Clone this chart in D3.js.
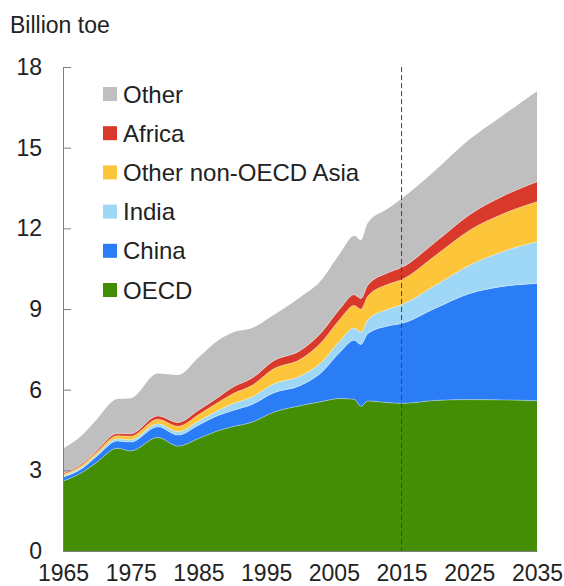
<!DOCTYPE html>
<html>
<head>
<meta charset="utf-8">
<script src="https://cdn.jsdelivr.net/npm/d3@7"></script>
<style>
  html, body { margin: 0; padding: 0; background: #fff; }
  svg text { font-family: "Liberation Sans", Arial, sans-serif; fill: #222; }
</style>
</head>
<body>
<svg id="chart" width="564" height="586"></svg>
<script>
// ---- data (billion toe) ----
const years  = [1965, 1968, 1970, 1973, 1975, 1979, 1982, 1985, 1988, 1990, 1993, 1996, 2000, 2003, 2006, 2008, 2009, 2010, 2013, 2015, 2020, 2025, 2030, 2035];
const oecd   = [2.60, 2.95, 3.30, 3.82, 3.72, 4.22, 3.90, 4.18, 4.48, 4.62, 4.80, 5.15, 5.40, 5.55, 5.67, 5.64, 5.38, 5.58, 5.52, 5.49, 5.60, 5.63, 5.62, 5.59];
const china  = [0.14, 0.15, 0.22, 0.27, 0.33, 0.40, 0.41, 0.50, 0.57, 0.60, 0.66, 0.72, 0.75, 1.05, 1.75, 2.20, 2.30, 2.50, 2.85, 2.97, 3.43, 3.94, 4.22, 4.36];
const india  = [0.05, 0.06, 0.07, 0.08, 0.09, 0.11, 0.13, 0.15, 0.19, 0.25, 0.28, 0.33, 0.35, 0.38, 0.42, 0.45, 0.46, 0.52, 0.62, 0.70, 0.85, 1.05, 1.30, 1.55];
const otherAsia = [0.06, 0.07, 0.09, 0.12, 0.13, 0.17, 0.20, 0.24, 0.30, 0.37, 0.43, 0.56, 0.62, 0.74, 0.81, 0.84, 0.85, 0.87, 0.93, 0.93, 1.11, 1.30, 1.40, 1.49];
const africa = [0.04, 0.05, 0.06, 0.08, 0.09, 0.12, 0.14, 0.16, 0.19, 0.24, 0.27, 0.30, 0.33, 0.36, 0.39, 0.40, 0.40, 0.41, 0.43, 0.45, 0.50, 0.58, 0.66, 0.74];
const other  = [0.91, 1.07, 1.16, 1.28, 1.32, 1.58, 1.77, 1.97, 2.12, 2.04, 1.86, 1.70, 1.98, 1.95, 2.06, 2.19, 2.17, 2.32, 2.39, 2.56, 2.67, 2.80, 3.01, 3.37];

const seriesNames = ["OECD", "China", "India", "Other non-OECD Asia", "Africa", "Other"];
const seriesData  = [oecd, china, india, otherAsia, africa, other];
const colors      = ["#448e06", "#2b7df5", "#9fd8f6", "#fdc53a", "#d8392a", "#bfbfbf"];
const legendOrder = ["Other", "Africa", "Other non-OECD Asia", "India", "China", "OECD"];
const yTicks = [0, 3, 6, 9, 12, 15, 18];
const xTicks = [1965, 1975, 1985, 1995, 2005, 2015, 2025, 2035];
const forecastStart = 2015;
const yTitle = "Billion toe";

// ---- layout ----
const svg = d3.select("#chart");
const plotL = 63, plotR = 537, plotT = 67, plotB = 551;

const x = d3.scaleLinear().domain([1965, 2035]).range([plotL, plotR]);
const y = d3.scaleLinear().domain([0, 18]).range([plotB, plotT]);

const table = years.map((yr, i) => {
  const row = { year: yr };
  seriesNames.forEach((n, k) => row[n] = seriesData[k][i]);
  return row;
});

const stack = d3.stack().keys(seriesNames);
const layers = stack(table);

const area = d3.area()
  .curve(d3.curveMonotoneX)
  .x(d => x(d.data.year))
  .y0(d => y(d[0]))
  .y1(d => y(d[1]));

const topLine = d3.line()
  .curve(d3.curveMonotoneX)
  .x(d => x(d.data.year))
  .y(d => y(d[1]));

svg.append("g").selectAll("path")
  .data(layers)
  .join("path")
  .attr("d", area)
  .attr("fill", (d, i) => colors[i]);

svg.append("g").selectAll("path")
  .data(layers.slice(0, 5))
  .join("path")
  .attr("d", topLine)
  .attr("fill", "none")
  .attr("stroke", "rgba(255,255,255,0.35)")
  .attr("stroke-width", 1);

// forecast divider
svg.append("line")
  .attr("x1", x(forecastStart)).attr("x2", x(forecastStart))
  .attr("y1", y(18)).attr("y2", y(0))
  .attr("stroke", "#444").attr("stroke-width", 1)
  .attr("stroke-dasharray", "5,3");

// y axis
const yAxis = d3.axisLeft(y)
  .tickValues(yTicks)
  .tickSizeInner(-8)
  .tickSizeOuter(0)
  .tickPadding(21)
  .tickFormat(d3.format("d"));

const gy = svg.append("g")
  .attr("transform", `translate(${plotL},0)`)
  .call(yAxis);
gy.select(".domain").attr("stroke", "#808080");
gy.selectAll(".tick line").attr("stroke", "#808080");
gy.selectAll(".tick text")
  .style("font-size", "23px")
  .attr("fill", "#222")
  .attr("font-family", "Liberation Sans, Arial, sans-serif");

// x axis
const xAxis = d3.axisBottom(x)
  .tickValues(xTicks)
  .tickSize(0)
  .tickPadding(14)
  .tickFormat(d3.format("d"));

const gx = svg.append("g")
  .attr("transform", `translate(0,${plotB})`)
  .call(xAxis);
gx.select(".domain").attr("stroke", "#808080");
gx.selectAll(".tick text")
  .style("font-size", "23px")
  .attr("fill", "#222")
  .attr("font-family", "Liberation Sans, Arial, sans-serif");

// y title
svg.append("text")
  .attr("x", 10).attr("y", 33)
  .style("font-size", "23px")
  .text(yTitle);

// legend
const lg = svg.append("g");
legendOrder.forEach((name, i) => {
  const cy = 94 + i * 39.2;
  const k = seriesNames.indexOf(name);
  lg.append("rect")
    .attr("x", 103).attr("y", cy - 7)
    .attr("width", 14).attr("height", 14)
    .attr("fill", colors[k]);
  lg.append("text")
    .attr("x", 123).attr("y", cy)
    .attr("dy", "0.36em")
    .style("font-size", "24px")
    .text(name);
});
</script>
</body>
</html>
